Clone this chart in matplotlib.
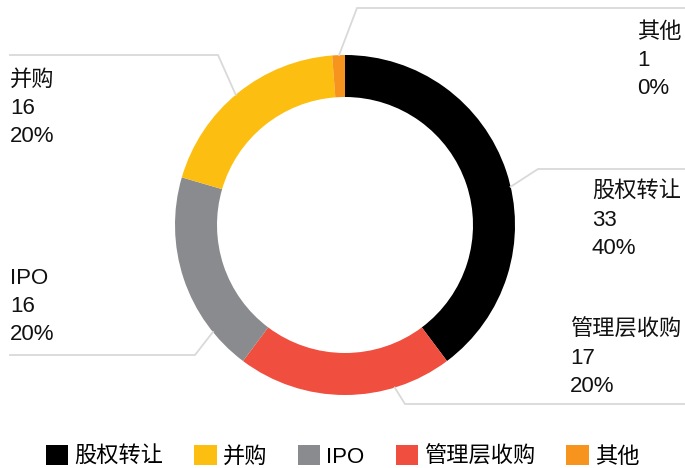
import matplotlib.pyplot as plt
from matplotlib.patches import Patch
import numpy as np

plt.rcParams['font.family'] = ['Liberation Sans', 'Noto Sans CJK SC', 'DejaVu Sans']

# data, clockwise from 12 o'clock
labels = ['股权转让', '管理层收购', 'IPO', '并购', '其他']
counts = [33, 17, 16, 16, 1]
pct_text = ['40%', '20%', '20%', '20%', '0%']
colors = ['#000000', '#f04e3e', '#8a8b8e', '#fdbe12', '#f7941d']
legend_order = ['股权转让', '并购', 'IPO', '管理层收购', '其他']

W, H = 685, 468
cx, cy, R, band = 345, 225, 170, 42

fig = plt.figure(figsize=(W / 100, H / 100), dpi=100)
ax = fig.add_axes([0, 0, 1, 1])

# y axis is flipped (pixel style), so startangle=-90 + counterclock draws clockwise from top
wedges, _ = ax.pie(counts, colors=colors, center=(cx, cy), radius=R,
                   startangle=-90, counterclock=True,
                   wedgeprops=dict(width=band, linewidth=0))
ax.set_xlim(0, W)
ax.set_ylim(H, 0)
ax.set_aspect('auto')
ax.axis('off')

# leader lines: angle on ring (deg clockwise from top), elbow, end
leader_ang = [77, 163, 231, 320, 358]
elbows = [(538, 169), (405, 404), (195, 355), (218, 55), (357, 8)]
ends = [685, 685, 10, 10, 685]
# label block: left x, y of first line
lab_pos = [(592, 192), (570, 330), (10, 278), (10, 80), (637, 32)]
line_gap = 28.5

for i in range(len(labels)):
    a = np.radians(leader_ang[i])
    x0, y0 = cx + R * np.sin(a), cy - R * np.cos(a)
    ex, ey = elbows[i]
    ax.plot([x0, ex, ends[i]], [y0, ey, ey], color='#d9d9d9', lw=1.3,
            solid_joinstyle='miter')
    lx, ly = lab_pos[i]
    for j, t in enumerate([labels[i], str(counts[i]), pct_text[i]]):
        ax.text(lx, ly + j * line_gap, t, fontsize=16, ha='left', va='center',
                color='#111111')

handles = [Patch(facecolor=colors[labels.index(n)], edgecolor='none') for n in legend_order]
fig.legend(handles, legend_order, loc='center', bbox_to_anchor=(0.5, 1 - 456.5 / H),
           ncol=5, frameon=False, fontsize=16, handlelength=1.0, handleheight=0.95,
           handletextpad=0.27, columnspacing=1.4, borderaxespad=0, borderpad=0)

plt.savefig('out.png', dpi=100)
